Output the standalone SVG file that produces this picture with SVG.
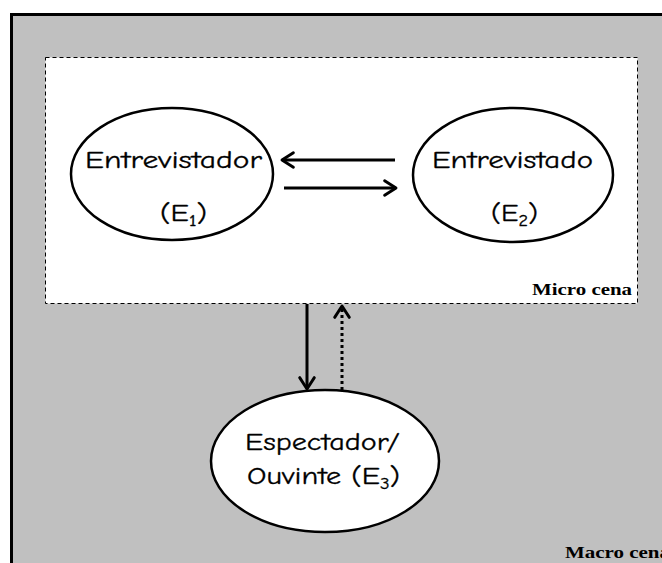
<svg xmlns="http://www.w3.org/2000/svg" width="662" height="563" viewBox="0 0 662 563">
<style>
.node{fill:#fff;stroke:#000;stroke-width:2.5}
.lbl{font-family:"Comic Neue","DejaVu Sans",sans-serif;font-size:24px;fill:#000;stroke:#000;stroke-width:0.3}
.sub{font-size:15px}
.scene{font-family:"Liberation Serif",serif;font-weight:bold;font-size:16px;fill:#000}
.conn{stroke:#000;stroke-width:3;fill:none}
</style>
<defs>
<marker id="ah" viewBox="0 0 12 12" refX="10" refY="6" markerWidth="6.5" markerHeight="6.5" markerUnits="strokeWidth" orient="auto">
<path d="M3,1.5 L10,6 L3,10.5" fill="none" stroke="#000" stroke-width="1.8" stroke-linecap="round" stroke-linejoin="round"/>
</marker>
</defs>
<rect x="0" y="0" width="662" height="563" fill="#fff"/>
<g id="macro">
<rect x="11.5" y="14.5" width="660" height="560" fill="#c0c0c0" stroke="#000" stroke-width="3"/>
<text class="scene" x="565" y="558" textLength="105" lengthAdjust="spacingAndGlyphs">Macro cena</text>
</g>
<g id="micro">
<rect x="45.5" y="57.5" width="592" height="246" fill="#fff" stroke="#000" stroke-width="1" stroke-dasharray="4,3"/>
<text class="scene" x="532" y="295" textLength="100" lengthAdjust="spacingAndGlyphs">Micro cena</text>
</g>
<g id="connectors">
<line class="conn" x1="395" y1="160" x2="282" y2="160" marker-end="url(#ah)"/>
<line class="conn" x1="284" y1="188" x2="396" y2="188" marker-end="url(#ah)"/>
<line class="conn" x1="307" y1="304" x2="307" y2="389" marker-end="url(#ah)"/>
<line class="conn" x1="342" y1="390" x2="342" y2="306" stroke-dasharray="3,3" marker-end="url(#ah)"/>
</g>
<g id="e1">
<ellipse class="node" cx="172" cy="174" rx="101" ry="66"/>
<text class="lbl" x="85" y="168" textLength="177" lengthAdjust="spacingAndGlyphs">Entrevistador</text>
<text class="lbl" x="160" y="221" textLength="47" lengthAdjust="spacingAndGlyphs">(E<tspan class="sub" dy="5">1</tspan><tspan dy="-5">)</tspan></text>
</g>
<g id="e2">
<ellipse class="node" cx="513" cy="175" rx="100" ry="67"/>
<text class="lbl" x="432" y="168" textLength="161" lengthAdjust="spacingAndGlyphs">Entrevistado</text>
<text class="lbl" x="491" y="221" textLength="47" lengthAdjust="spacingAndGlyphs">(E<tspan class="sub" dy="5">2</tspan><tspan dy="-5">)</tspan></text>
</g>
<g id="e3">
<ellipse class="node" cx="325" cy="461" rx="114" ry="71"/>
<text class="lbl" x="245" y="450" textLength="155" lengthAdjust="spacingAndGlyphs">Espectador/</text>
<text class="lbl" x="247" y="484" textLength="153" lengthAdjust="spacingAndGlyphs">Ouvinte (E<tspan class="sub" dy="5">3</tspan><tspan dy="-5">)</tspan></text>
</g>
</svg>
